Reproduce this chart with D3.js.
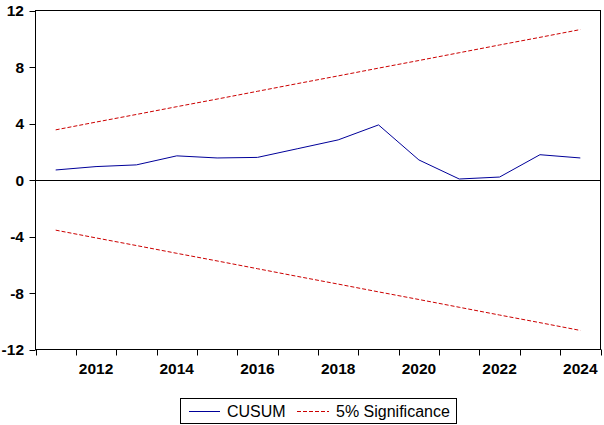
<!DOCTYPE html>
<html>
<head>
<meta charset="utf-8">
<script src="https://cdn.jsdelivr.net/npm/d3@7"></script>
<style>
body { margin: 0; background: #fff; }
svg { display: block; }
.tick-label { font-family: "Liberation Sans", Arial, sans-serif; font-weight: bold; font-size: 15.5px; fill: #000; }
.legend-text { font-family: "Liberation Sans", Arial, sans-serif; font-size: 16px; fill: #000; }
</style>
</head>
<body>
<svg width="604" height="425"></svg>
<script>
var years = [2011, 2012, 2013, 2014, 2015, 2016, 2017, 2018, 2019, 2020, 2021, 2022, 2023, 2024];
var cusum = [0.71, 0.95, 1.07, 1.71, 1.56, 1.60, 2.22, 2.84, 3.90, 1.42, 0.07, 0.21, 1.79, 1.56];
var upper = [3.55, 4.10, 4.64, 5.19, 5.73, 6.28, 6.83, 7.37, 7.92, 8.46, 9.01, 9.56, 10.10, 10.65];
var lower = [-3.55, -4.10, -4.64, -5.19, -5.73, -6.28, -6.83, -7.37, -7.92, -8.46, -9.01, -9.56, -10.10, -10.65];
var yTicks = [-12, -8, -4, 0, 4, 8, 12];
var xLabels = [2012, 2014, 2016, 2018, 2020, 2022, 2024];

// plot frame edges (window.top is reserved, so no "top")
var plotLeft = 35.5, plotRight = 600.5, plotTop = 10.5, plotBottom = 349.5;

var svg = d3.select("svg");

// band per year, points sit at band centres
var x = d3.scaleBand()
	.domain(years)
	.range([plotLeft, plotRight])
	.padding(0);

var y = d3.scaleLinear()
	.domain([-12, 12])
	.range([plotBottom, plotTop]);

function cx(d, i) { return x(years[i]) + x.bandwidth() / 2; }

// frame
svg.append("rect")
	.attr("x", plotLeft)
	.attr("y", plotTop)
	.attr("width", plotRight - plotLeft)
	.attr("height", plotBottom - plotTop)
	.attr("fill", "none")
	.attr("stroke", "#000")
	.attr("stroke-width", 1);

// zero line
svg.append("line")
	.attr("x1", plotLeft)
	.attr("x2", plotRight)
	.attr("y1", Math.round(y(0)) + 0.5)
	.attr("y2", Math.round(y(0)) + 0.5)
	.attr("stroke", "#000");

// y axis
var yAxis = svg.append("g");
yAxis.selectAll("line")
	.data(yTicks)
	.enter().append("line")
	.attr("x1", plotLeft - 6)
	.attr("x2", plotLeft)
	.attr("y1", function(d) { return Math.round(y(d)) + 0.5; })
	.attr("y2", function(d) { return Math.round(y(d)) + 0.5; })
	.attr("stroke", "#000");
yAxis.selectAll("text")
	.data(yTicks)
	.enter().append("text")
	.attr("class", "tick-label")
	.attr("x", 24)
	.attr("y", function(d) { return y(d); })
	.attr("dy", ".36em")
	.attr("text-anchor", "end")
	.text(function(d) { return d; });

// x axis ticks at band boundaries
var xAxis = svg.append("g");
xAxis.selectAll("line")
	.data(years.concat([null]))
	.enter().append("line")
	.attr("x1", function(d, i) { return Math.round(plotLeft + i * x.bandwidth()) + 0.5; })
	.attr("x2", function(d, i) { return Math.round(plotLeft + i * x.bandwidth()) + 0.5; })
	.attr("y1", plotBottom)
	.attr("y2", plotBottom + 6)
	.attr("stroke", "#000");
xAxis.selectAll("text")
	.data(xLabels)
	.enter().append("text")
	.attr("class", "tick-label")
	.attr("x", function(d) { return x(d) + x.bandwidth() / 2; })
	.attr("y", 374)
	.attr("text-anchor", "middle")
	.text(function(d) { return d; });

var line = d3.line()
	.x(cx)
	.y(function(d) { return y(d); });

svg.append("path")
	.datum(upper)
	.attr("d", line)
	.attr("fill", "none")
	.attr("stroke", "#cc0000")
	.attr("stroke-width", 1)
	.attr("stroke-dasharray", "4,2");

svg.append("path")
	.datum(lower)
	.attr("d", line)
	.attr("fill", "none")
	.attr("stroke", "#cc0000")
	.attr("stroke-width", 1)
	.attr("stroke-dasharray", "4,2");

svg.append("path")
	.datum(cusum)
	.attr("d", line)
	.attr("fill", "none")
	.attr("stroke", "#000099")
	.attr("stroke-width", 1);

// legend
var legend = svg.append("g");
legend.append("rect")
	.attr("x", 180.5)
	.attr("y", 398.5)
	.attr("width", 276)
	.attr("height", 25)
	.attr("fill", "#fff")
	.attr("stroke", "#000");
legend.append("line")
	.attr("x1", 189).attr("x2", 220)
	.attr("y1", 411.5).attr("y2", 411.5)
	.attr("stroke", "#000099");
legend.append("text")
	.attr("class", "legend-text")
	.attr("x", 227)
	.attr("y", 417)
	.text("CUSUM");
legend.append("line")
	.attr("x1", 297).attr("x2", 329)
	.attr("y1", 411.5).attr("y2", 411.5)
	.attr("stroke", "#cc0000")
	.attr("stroke-dasharray", "4,2");
legend.append("text")
	.attr("class", "legend-text")
	.attr("x", 336)
	.attr("y", 417)
	.text("5% Significance");
</script>
</body>
</html>
